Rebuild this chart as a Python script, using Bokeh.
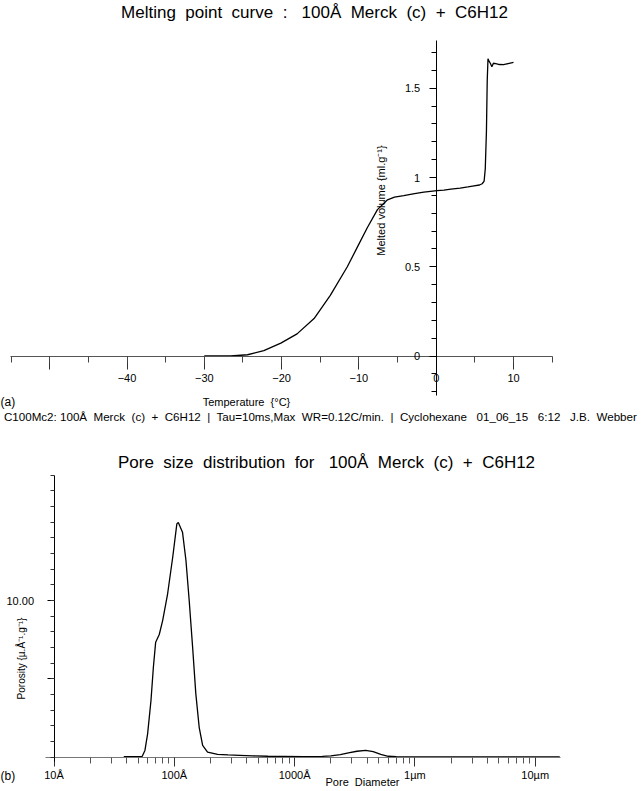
import math
from bokeh.plotting import figure
from bokeh.layouts import column
from bokeh.models import Range1d, SingleIntervalTicker, FixedTicker
from bokeh.core.properties import value
from bokeh.embed import file_html
from bokeh.resources import INLINE

# ---------------- data ----------------
# (a) melting point curve
temp_c = [-30.0, -26.6, -24.4, -22.3, -20.1, -18.0, -15.8, -13.7, -11.5, -10.2,
          -8.9, -7.6, -6.3, -5.4, -4.2, -2.8, -1.6, 0.1, 1.0, 1.9,
          3.1, 4.1, 4.9, 5.6, 5.95, 6.2, 6.35, 6.5, 6.6, 6.7,
          6.85, 7.0, 7.2, 7.4, 7.7, 8.2, 8.7, 9.3, 10.0]
melted_vol = [0.0, 0.0, 0.007, 0.03, 0.072, 0.124, 0.21, 0.34, 0.50, 0.61,
              0.72, 0.82, 0.875, 0.89, 0.898, 0.91, 0.918, 0.926, 0.929, 0.935,
              0.94, 0.947, 0.953, 0.958, 0.965, 0.98, 1.05, 1.26, 1.54, 1.665,
              1.65, 1.64, 1.62, 1.64, 1.638, 1.633, 1.632, 1.638, 1.645]
temp_tick_labels = {-50: "", -40: "\u221240", -30: "\u221230", -20: "\u221220",
                    -10: "\u221210", 0: "0", 10: "10"}

# (b) pore size distribution
pore_diam_A = [38, 54, 57, 60, 64, 67, 70, 75, 80, 88,
               97, 105, 108, 117, 125, 133, 142, 151, 161, 172,
               189, 229, 280, 350, 450, 600, 800, 1200, 1700, 2000,
               2400, 2800, 3300, 3900, 4500, 5200, 6000, 7000, 10000, 30000,
               100000, 160000]
porosity = [0.03, 0.05, 0.43, 1.49, 3.62, 5.74, 7.34, 7.83, 8.72, 10.43,
            12.76, 14.89, 14.98, 14.36, 12.55, 10.0, 7.02, 4.04, 1.91, 0.75,
            0.32, 0.18, 0.15, 0.12, 0.08, 0.06, 0.05, 0.04, 0.05, 0.08,
            0.17, 0.28, 0.38, 0.43, 0.35, 0.18, 0.06, 0.03, 0.02, 0.02,
            0.02, 0.02]
psd_major = [10, 100, 1000, 10000, 100000]
psd_tick_labels = {10: "10\u00c5", 100: "100\u00c5", 1000: "1000\u00c5",
                   10000: "1\u00b5m", 100000: "10\u00b5m"}
por_tick_labels = {5: "", 10: "10.00"}

NB = "\u00a0"
S2 = NB + " "
title_a = ("Melting" + S2 + "point" + S2 + "curve" + S2 + ":" + NB * 3 + "100\u00c5" + S2 +
           "Merck" + S2 + "(c)" + S2 + "+" + S2 + "C6H12")
title_b = ("Pore" + S2 + "size" + S2 + "distribution" + S2 + "for" + NB * 3 + "100\u00c5" + S2 +
           "Merck" + S2 + "(c)" + S2 + "+" + S2 + "C6H12")
footer = ("C100Mc2:" + NB + "100\u00c5" + S2 + "Merck" + S2 + "(c)" + S2 + "+" + S2 + "C6H12" + S2 + "|" + S2 +
          "Tau=10ms,Max" + S2 + "WR=0.12C/min." + S2 + "|" + S2 + "Cyclohexane" + NB * 2 + " 01_06_15" + NB * 2 +
          " 6:12" + NB * 2 + " J.B." + S2 + "Webber")

FONT = value("Liberation Sans")
W = 642
H_TOP = 440
H_BOT = 351

# ---------------- layout helpers (page pixels -> data) ----------------
X0_PX, PX_PER_C = 435.7, 7.73
Y0_PX, PX_PER_V = 355.5, 178.5


def top_x(px):
    return (px - X0_PX) / PX_PER_C


def top_y(py):
    return (Y0_PX - py) / PX_PER_V


B_X10_PX, B_PX_PER_DEC = 53.5, 120.3
B_Y0_PX, B_PX_PER_U = 756.7 - H_TOP, 15.67


def bot_x(px):
    return 10 ** (1 + (px - B_X10_PX) / B_PX_PER_DEC)


def bot_y(py):
    return (B_Y0_PX - (py - H_TOP)) / B_PX_PER_U


def add_text(p, x, y, s, size, angle=0.0, align="center"):
    p.text(x=[x], y=[y], text=[s], angle=angle, text_font=FONT,
           text_font_size=size, text_align=align, text_baseline="middle",
           text_color="black")


def style_fig(p):
    p.grid.visible = False
    p.outline_line_color = None
    p.background_fill_color = "white"
    p.border_fill_color = "white"


# ---------------- (a) top figure ----------------
top = figure(width=W, height=H_TOP, output_backend="svg", toolbar_location=None,
             x_range=Range1d(top_x(0), top_x(W)), y_range=Range1d(top_y(H_TOP), top_y(0)),
             min_border=0)
style_fig(top)

xa = top.xaxis[0]
xa.fixed_location = 0
xa.bounds = (-55.1, 15)
xa.ticker = SingleIntervalTicker(interval=10, num_minor_ticks=2)
xa.major_label_overrides = temp_tick_labels
xa.major_tick_in = 0
xa.major_tick_out = 13
xa.minor_tick_in = 0
xa.minor_tick_out = 6
xa.major_label_standoff = 5
xa.major_label_text_font = "Liberation Sans"
xa.major_label_text_font_size = "11px"
xa.major_label_text_color = "black"
xa.axis_line_color = "#555555"
xa.major_tick_line_color = "#333333"
xa.minor_tick_line_color = "#444444"

ya = top.yaxis[0]
ya.fixed_location = 0
ya.bounds = (-0.22, 1.77)
ya.ticker = SingleIntervalTicker(interval=0.5, num_minor_ticks=5)
ya.major_tick_in = 0
ya.major_tick_out = 7
ya.minor_tick_in = 0
ya.minor_tick_out = 5
ya.major_label_standoff = 9
ya.major_label_text_font = "Liberation Sans"
ya.major_label_text_font_size = "11px"
ya.major_label_text_color = "black"
ya.axis_line_color = "black"
ya.major_tick_line_color = "black"
ya.minor_tick_line_color = "black"

top.line(temp_c, melted_vol, line_color="black", line_width=1.3)

add_text(top, top_x(314), top_y(12), title_a, "17px")
add_text(top, top_x(380.7), top_y(200), "Melted volume {ml.g\u207b\u00b9}", "11px", angle=math.pi / 2)
add_text(top, top_x(246), top_y(401), "Temperature" + S2 + "{\u00b0C}", "11px")
add_text(top, top_x(0), top_y(401), "(a)", "12px", align="left")
add_text(top, top_x(320), top_y(416), footer, "11.6px")

# ---------------- (b) bottom figure ----------------
bot = figure(width=W, height=H_BOT, output_backend="svg", toolbar_location=None,
             x_axis_type="log",
             x_range=Range1d(bot_x(0), bot_x(W)),
             y_range=Range1d(bot_y(H_TOP + H_BOT), bot_y(H_TOP)),
             min_border=0)
style_fig(bot)

bx = bot.xaxis[0]
bx.fixed_location = 0
bx.bounds = (bot_x(45), bot_x(560))
bx.ticker = FixedTicker(ticks=psd_major,
                        minor_ticks=[m * 10 ** k for k in range(1, 5) for m in range(2, 10)])
bx.major_label_overrides = psd_tick_labels
bx.major_tick_in = 0
bx.major_tick_out = 9
bx.minor_tick_in = 0
bx.minor_tick_out = 6
bx.major_label_standoff = 3
bx.major_label_text_font = "Liberation Sans"
bx.major_label_text_font_size = "11px"
bx.major_label_text_color = "black"
bx.axis_line_color = "#777777"
bx.major_tick_line_color = "#333333"
bx.minor_tick_line_color = "#555555"

by = bot.yaxis[0]
by.fixed_location = 10
by.bounds = (-0.3, 18)
by.ticker = FixedTicker(ticks=[5, 10], minor_ticks=list(range(0, 19)))
by.major_label_overrides = por_tick_labels
by.major_tick_in = 0
by.major_tick_out = 7
by.minor_tick_in = 0
by.minor_tick_out = 4
by.major_label_standoff = 13
by.major_label_text_font = "Liberation Sans"
by.major_label_text_font_size = "11px"
by.major_label_text_color = "black"
by.axis_line_color = "black"
by.major_tick_line_color = "black"
by.minor_tick_line_color = "#333333"

bot.line(pore_diam_A, porosity, line_color="black", line_width=1.3)

add_text(bot, bot_x(326), bot_y(462), title_b, "17px")
add_text(bot, bot_x(21), bot_y(658), "Porosity {\u00b5.\u00c5\u207b\u00b9.g\u207b\u00b9}", "10px", angle=math.pi / 2)
add_text(bot, bot_x(362), bot_y(781), "Pore" + S2 + "Diameter", "11px")
add_text(bot, bot_x(0), bot_y(775), "(b)", "12px", align="left")

layout = column(top, bot, spacing=0)
open("out.html", "w").write(file_html(layout, INLINE))
